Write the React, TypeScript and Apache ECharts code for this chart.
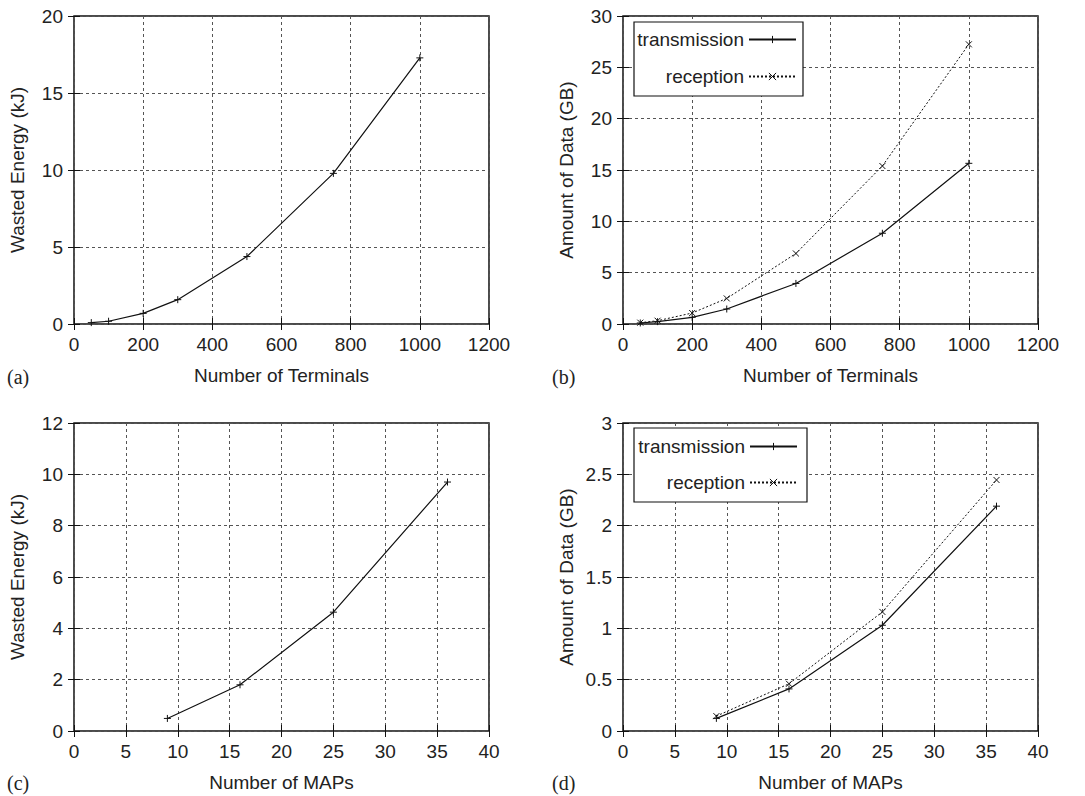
import React, { useEffect, useRef } from "react";
import * as echarts from "echarts";

// ---- data ----
const terminals = [50, 100, 200, 300, 500, 750, 1000];
const energyTerminals = [0.09, 0.18, 0.69, 1.58, 4.38, 9.78, 17.28];
const txTerminals = [0.1, 0.23, 0.65, 1.46, 3.95, 8.84, 15.65];
const rxTerminals = [0.13, 0.32, 1.07, 2.49, 6.87, 15.39, 27.24];

const maps = [9, 16, 25, 36];
const energyMaps = [0.49, 1.8, 4.63, 9.7];
const txMaps = [0.123, 0.41, 1.03, 2.19];
const rxMaps = [0.145, 0.46, 1.16, 2.445];

const seriesNames = ["transmission", "reception"];
const panelLabels = ["(a)", "(b)", "(c)", "(d)"];
const xNames = ["Number of Terminals", "Number of Terminals", "Number of MAPs", "Number of MAPs"];
const yNames = ["Wasted Energy (kJ)", "Amount of Data (GB)", "Wasted Energy (kJ)", "Amount of Data (GB)"];

const FONT = "'Liberation Sans', Arial, Helvetica, sans-serif";
const FS = 19;
const TXT = "#222";
const PLUS = "path://M0,5L10,5M5,0L5,10";
const CROSS = "path://M0,0L10,10M0,10L10,0";

const grids = [
  { left: 74, top: 16, width: 415, height: 308 },
  { left: 623, top: 16, width: 415, height: 308 },
  { left: 74, top: 423, width: 415, height: 308 },
  { left: 623, top: 423, width: 415, height: 308 },
];
const xRanges = [
  { min: 0, max: 1200, interval: 200 },
  { min: 0, max: 1200, interval: 200 },
  { min: 0, max: 40, interval: 5 },
  { min: 0, max: 40, interval: 5 },
];
const yRanges = [
  { min: 0, max: 20, interval: 5 },
  { min: 0, max: 30, interval: 5 },
  { min: 0, max: 12, interval: 2 },
  { min: 0, max: 3, interval: 0.5 },
];

function pairs(xs: number[], ys: number[]) {
  return xs.map((x, i) => [x, ys[i]]);
}

const fmt = (v: number) => String(Math.round(v * 100) / 100);

export default function App() {
  const ref = useRef<HTMLDivElement>(null);
  useEffect(() => {
    if (!ref.current) return;
    const chart = echarts.init(ref.current, undefined, { renderer: "svg" });

    const tick = { show: true, inside: true, length: 6, lineStyle: { color: "#111" } };
    const split = { show: true, lineStyle: { color: "#555", type: [3, 3], width: 1 } };
    const xAxis: any[] = [];
    const yAxis: any[] = [];
    grids.forEach((_, i) => {
      xAxis.push({
        type: "value",
        gridIndex: i,
        ...xRanges[i],
        name: xNames[i],
        nameLocation: "middle",
        nameGap: 42,
        nameTextStyle: { fontFamily: FONT, fontSize: FS, color: TXT },
        axisLine: { show: false },
        axisTick: tick,
        axisLabel: { fontFamily: FONT, fontSize: FS, color: TXT, margin: 11, formatter: fmt },
        splitLine: split,
      });
      xAxis.push({
        type: "value",
        gridIndex: i,
        position: "top",
        ...xRanges[i],
        axisLine: { show: false },
        axisTick: tick,
        axisLabel: { show: false },
        splitLine: { show: false },
      });
      yAxis.push({
        type: "value",
        gridIndex: i,
        ...yRanges[i],
        name: yNames[i],
        nameLocation: "middle",
        nameGap: 47,
        nameTextStyle: { fontFamily: FONT, fontSize: FS, color: TXT },
        axisLine: { show: false },
        axisTick: tick,
        axisLabel: { fontFamily: FONT, fontSize: FS, color: TXT, margin: 11, formatter: fmt },
        splitLine: split,
      });
      yAxis.push({
        type: "value",
        gridIndex: i,
        position: "right",
        ...yRanges[i],
        axisLine: { show: false },
        axisTick: tick,
        axisLabel: { show: false },
        splitLine: { show: false },
      });
    });

    const solid = (name: string, idx: number, data: number[][]) => ({
      type: "line",
      name,
      xAxisIndex: idx * 2,
      yAxisIndex: idx * 2,
      data,
      symbol: PLUS,
      symbolSize: 7,
      showSymbol: true,
      itemStyle: { color: "#111", borderColor: "#111", borderWidth: 1 },
      lineStyle: { color: "#111", width: 1.2, type: "solid" },
      z: 5,
    });
    const dashed = (name: string, idx: number, data: number[][]) => ({
      type: "line",
      name,
      xAxisIndex: idx * 2,
      yAxisIndex: idx * 2,
      data,
      symbol: CROSS,
      symbolSize: 6,
      showSymbol: true,
      itemStyle: { color: "#111", borderColor: "#111", borderWidth: 1 },
      lineStyle: { color: "#111", width: 1, type: [2, 2] },
      z: 5,
    });

    const series = [
      solid("energyA", 0, pairs(terminals, energyTerminals)),
      solid(seriesNames[0], 1, pairs(terminals, txTerminals)),
      dashed(seriesNames[1], 1, pairs(terminals, rxTerminals)),
      solid("energyC", 2, pairs(maps, energyMaps)),
      solid(seriesNames[0], 3, pairs(maps, txMaps)),
      dashed(seriesNames[1], 3, pairs(maps, rxMaps)),
    ];

    const legendBase = {
      orient: "horizontal",
      align: "right",
      padding: 0,
      itemWidth: 47,
      itemHeight: 9,
      selectedMode: false,
      itemStyle: { borderWidth: 1 },
      textStyle: { fontFamily: FONT, fontSize: FS, color: TXT },
    };
    const legend = [
      { ...legendBase, data: [seriesNames[0]], right: 1085 - 797, top: 30 },
      { ...legendBase, data: [seriesNames[1]], right: 1085 - 797, top: 67 },
      { ...legendBase, data: [seriesNames[0]], right: 1085 - 798, top: 437 },
      { ...legendBase, data: [seriesNames[1]], right: 1085 - 798, top: 473 },
    ];

    const labelPos = [
      [7, 377],
      [552, 377],
      [7, 783],
      [552, 783],
    ];
    const graphic: any[] = [
      { type: "rect", shape: { x: 634, y: 22, width: 169, height: 74 }, style: { fill: "#fff", stroke: "#111", lineWidth: 1.2 }, z: 3 },
      { type: "rect", shape: { x: 634, y: 428, width: 173, height: 74 }, style: { fill: "#fff", stroke: "#111", lineWidth: 1.2 }, z: 3 },
      ...panelLabels.map((t, i) => ({
        type: "text",
        x: labelPos[i][0],
        y: labelPos[i][1],
        style: {
          text: t,
          fontFamily: "'Liberation Serif', 'Times New Roman', serif",
          fontSize: 20,
          fill: TXT,
          verticalAlign: "middle",
        },
      })),
    ];

    chart.setOption({
      animation: false,
      backgroundColor: "#fff",
      grid: grids.map((g) => ({ ...g, show: true, borderColor: "#111", borderWidth: 1.5, backgroundColor: "transparent" })),
      xAxis,
      yAxis,
      legend,
      series,
      graphic,
    });
    return () => chart.dispose();
  }, []);
  return <div ref={ref} style={{ position: "absolute", left: 0, top: 0, width: 1085, height: 796 }} />;
}
